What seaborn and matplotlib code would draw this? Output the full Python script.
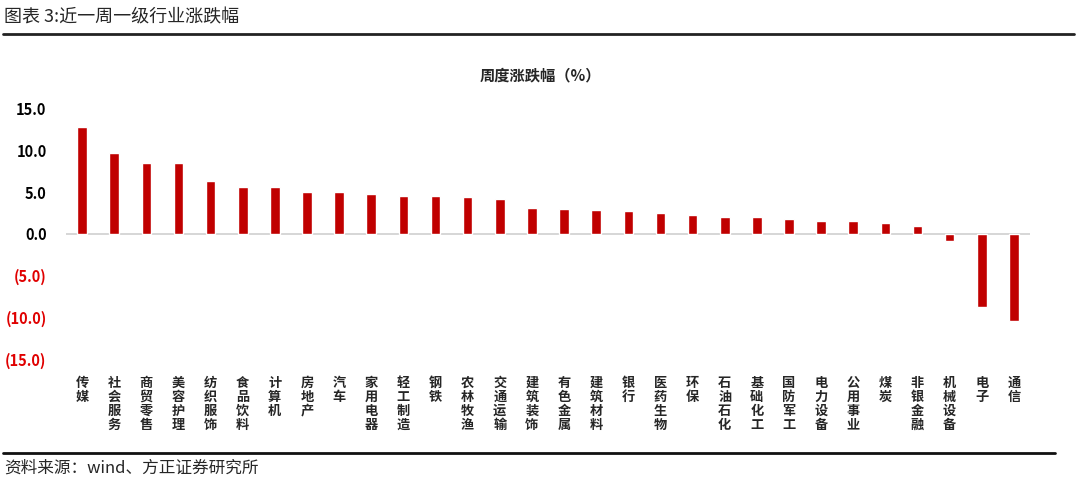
import numpy as np
import pandas as pd
import matplotlib
matplotlib.use('Agg')
import matplotlib.pyplot as plt
import seaborn as sns

# data
industries = ['传媒', '社会服务', '商贸零售', '美容护理', '纺织服饰', '食品饮料', '计算机',
              '房地产', '汽车', '家用电器', '轻工制造', '钢铁', '农林牧渔', '交通运输',
              '建筑装饰', '有色金属', '建筑材料', '银行', '医药生物', '环保', '石油石化',
              '基础化工', '国防军工', '电力设备', '公用事业', '煤炭', '非银金融',
              '机械设备', '电子', '通信']
weekly_change = [12.8, 9.7, 8.5, 8.5, 6.4, 5.6, 5.6,
                 5.0, 5.0, 4.8, 4.6, 4.5, 4.4, 4.2,
                 3.1, 3.0, 2.85, 2.75, 2.55, 2.25, 2.05,
                 2.05, 1.8, 1.6, 1.5, 1.3, 1.0,
                 -0.9, -8.8, -10.4]
y_ticks = [15, 10, 5, 0, -5, -10, -15]

df = pd.DataFrame({'industry': industries, 'change': weekly_change})

sns.set_theme(style='white')
plt.rcParams['font.family'] = ['Noto Sans CJK SC', 'DejaVu Sans']

fig = plt.figure(figsize=(10.8, 4.84), dpi=100)
ax = fig.add_axes([0.0611, 0.2583, 0.8926, 0.5165])

sns.barplot(data=df, x='industry', y='change', color='#C00000',
            width=0.3, saturation=1, ax=ax)

ax.set_xlim(-0.5, len(industries) - 0.5)
ax.set_ylim(-15, 15)
ax.axhline(0, color='#d0d0d0', lw=1.2, zorder=0)
for s in ax.spines.values():
    s.set_visible(False)
ax.set_xlabel('')
ax.set_ylabel('')

# y tick labels: negatives in brackets and red
ax.set_yticks(y_ticks)
ylabels = [f'{v:.1f}' if v >= 0 else f'({abs(v):.1f})' for v in y_ticks]
ax.set_yticklabels(ylabels, fontsize=10.5, fontweight='bold')
for t, v in zip(ax.get_yticklabels(), y_ticks):
    t.set_color('#E00000' if v < 0 else 'black')
ax.tick_params(axis='y', length=0, pad=14)

# x tick labels stacked vertically
ax.set_xticks(range(len(industries)))
ax.set_xticklabels(['\n'.join(n) for n in industries], fontsize=9.5,
                   fontweight='bold', linespacing=1.0, va='top')
ax.tick_params(axis='x', length=0, pad=12)

fig.text(0.5, 0.845, '周度涨跌幅（%）', ha='center', va='center',
         fontsize=11, fontweight='bold')

# report header / footer
fig.text(0.004, 0.965, '图表 3:近一周一级行业涨跌幅', ha='left', va='center',
         fontsize=13)
fig.add_artist(plt.Line2D([0.003, 0.994], [0.929, 0.929], color='#222222',
                          lw=2, transform=fig.transFigure))
fig.add_artist(plt.Line2D([0.003, 0.977], [0.064, 0.064], color='#111111',
                          lw=2, transform=fig.transFigure))
fig.text(0.004, 0.032, '资料来源：wind、方正证券研究所', ha='left', va='center',
         fontsize=12, style='italic')

fig.savefig('out.png', dpi=100, facecolor='white')
